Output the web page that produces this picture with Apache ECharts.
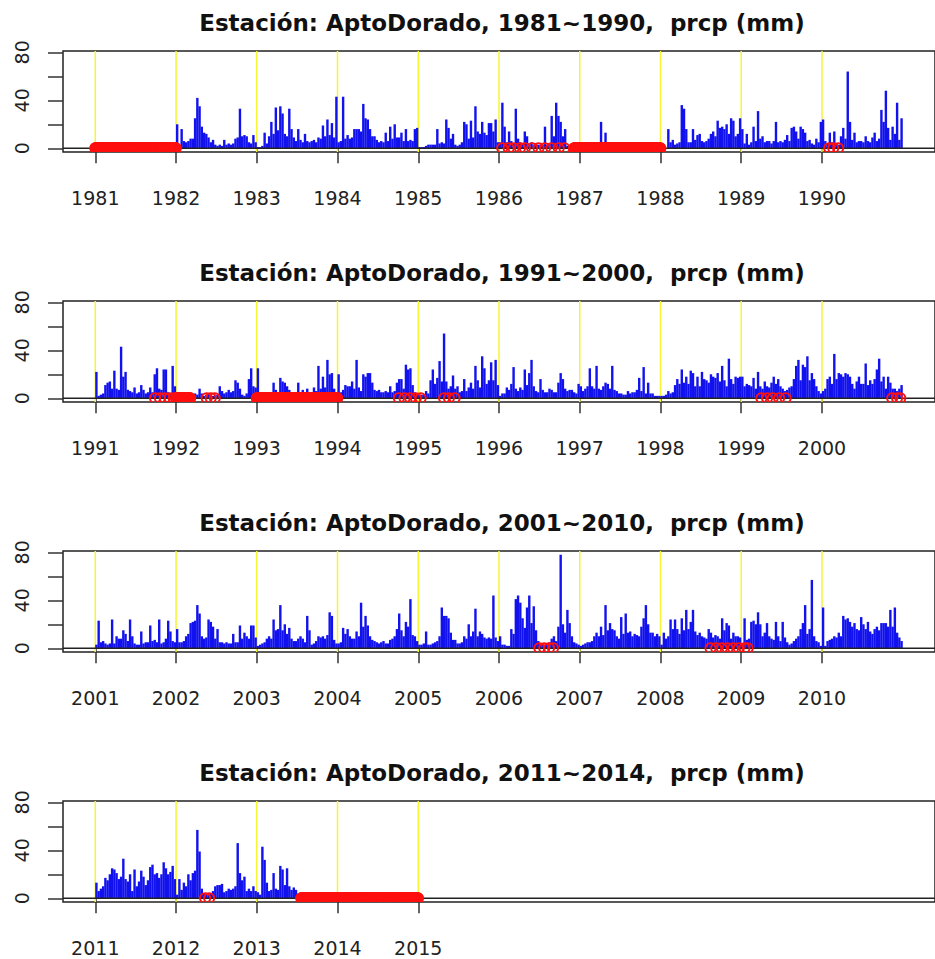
<!DOCTYPE html>
<html><head><meta charset="utf-8">
<script src="https://cdn.jsdelivr.net/npm/echarts@6/dist/echarts.min.js"></script>
<style>html,body{margin:0;padding:0;background:#fff}#c{width:935px;height:959px}</style>
</head><body><div id="c"></div>
<script>
// Daily precipitation summarised per dekad (36 per year); null = missing
const prcp1981 = [];
const prcp1982 = [20,null,16,6,5,6,8,8,25,42,35,18,13,12,9,5,7,3,2,3,2,7,3,4,3,4,8,9,33,10,11,10,5,4,11,5];
const prcp1983 = [1,1,2,13,4,10,22,12,34,15,35,29,12,10,33,16,9,6,16,7,5,12,6,5,6,7,5,9,8,19,10,24,11,21,9,43];
const prcp1984 = [5,6,43,8,11,8,9,16,16,16,14,37,25,24,16,10,10,7,5,6,5,13,6,18,8,20,9,9,13,6,16,6,7,6,16,17];
const prcp1985 = [1,1,1,2,3,3,3,3,16,4,5,4,24,17,8,12,3,2,3,5,22,20,8,23,9,35,14,12,22,13,11,21,21,14,24,5];
const prcp1986 = [5,38,18,5,14,6,4,33,8,5,4,14,10,4,5,3,4,3,3,3,18,3,4,27,10,38,27,22,10,16,2,null,null,null,null,null];
const prcp1987 = [null,null,null,null,null,null,null,null,null,22,null,13,null,null,null,null,null,null,null,null,null,null,null,null,null,null,null,null,null,null,null,null,null,null,null,null];
const prcp1988 = [null,null,null,16,5,7,3,4,5,36,33,16,5,5,16,7,11,12,6,5,6,8,12,14,10,23,17,18,16,20,12,25,23,10,12,25];
const prcp1989 = [16,4,12,3,5,18,6,31,8,10,5,6,6,4,6,22,5,6,5,7,11,6,17,18,14,8,18,16,13,6,7,4,3,8,5,22];
const prcp1990 = [24,6,4,13,5,14,4,3,10,17,8,64,22,7,13,5,6,6,5,10,6,5,9,13,6,8,32,22,48,17,7,18,12,38,7,25];

const prcp1991 = [22,2,3,4,11,13,14,8,23,8,7,43,18,22,7,6,5,9,4,5,11,7,4,5,9,5,20,25,8,7,24,24,5,4,27,10];
const prcp1992 = [3,4,3,5,3,2,4,3,4,3,8,4,2,3,4,3,2,3,3,10,6,4,5,7,5,6,15,13,8,3,2,4,16,25,10,9];
const prcp1993 = [25,3,2,3,4,3,4,13,7,5,17,14,13,10,7,5,4,5,13,5,7,5,8,4,5,9,6,27,8,18,9,32,20,21,8,5];
const prcp1994 = [20,5,7,11,10,10,14,8,32,9,6,20,18,21,21,13,7,6,7,5,5,6,5,10,5,6,13,16,16,8,28,24,25,11,5,3];
const prcp1995 = [3,3,3,6,4,15,24,12,17,31,14,54,14,8,10,19,8,10,5,6,16,6,9,13,8,27,15,9,35,25,12,15,30,15,32,11];
const prcp1996 = [2,4,4,9,7,12,26,8,6,9,7,24,11,21,32,10,6,5,16,7,5,5,8,7,5,5,13,21,16,8,6,7,7,5,4,12];
const prcp1997 = [10,6,8,10,25,10,8,27,8,7,10,13,12,8,27,7,6,4,4,3,3,6,4,5,5,7,17,6,26,4,13,4,4,2,2,2];
const prcp1998 = [2,2,3,6,4,5,11,16,12,24,13,18,12,23,21,10,18,10,22,16,15,13,20,18,17,21,14,27,15,10,33,16,12,18,17,18];
const prcp1999 = [18,10,12,11,10,17,8,22,10,8,14,10,9,13,18,12,16,10,8,6,7,9,10,16,27,32,15,28,26,35,15,21,16,10,6,4];
const prcp2000 = [6,8,16,18,12,37,16,21,20,18,21,20,18,12,8,14,18,12,12,29,11,15,12,16,24,33,14,18,8,18,13,8,8,6,8,11];

const prcp2001 = [3,23,5,6,4,3,4,24,4,10,8,8,15,12,6,24,10,4,3,3,14,4,5,5,19,6,7,5,24,4,5,8,23,14,6,5];
const prcp2002 = [16,5,5,6,10,12,21,22,23,36,29,10,8,9,24,22,18,8,16,5,5,4,5,4,4,12,5,5,19,8,13,10,8,19,19,9];
const prcp2003 = [2,3,4,5,8,10,8,24,15,16,36,15,20,12,17,8,6,6,8,10,8,5,27,15,3,4,6,10,9,10,8,11,30,27,7,4];
const prcp2004 = [4,5,17,12,16,10,8,8,14,10,38,18,27,19,10,7,6,5,4,5,6,4,4,7,8,10,16,29,15,10,22,18,41,11,10,6];
const prcp2005 = [3,3,4,14,3,3,4,5,6,10,34,27,27,25,13,7,7,4,4,5,10,8,20,10,14,33,10,14,12,9,8,9,8,44,9,6];
const prcp2006 = [10,3,3,2,2,16,12,41,44,38,25,17,34,44,21,35,15,6,4,3,3,4,5,8,10,6,18,78,20,13,32,21,10,5,4,3];
const prcp2007 = [2,3,4,5,5,6,10,13,10,18,11,36,15,21,16,15,10,8,26,12,29,13,14,10,12,11,10,18,25,36,20,13,13,10,12,10];
const prcp2008 = [3,13,8,10,24,16,24,16,12,25,15,32,16,22,32,14,11,13,10,9,8,16,13,9,11,10,8,25,15,21,19,8,13,10,10,9];
const prcp2009 = [4,25,7,8,22,23,20,30,20,10,13,21,10,8,7,22,10,6,22,9,5,3,4,6,8,10,16,21,36,12,16,57,10,6,5,2];
const prcp2010 = [34,2,6,7,8,10,9,13,10,27,24,25,22,18,21,16,15,26,20,16,22,14,12,16,18,15,21,21,21,18,32,18,34,13,9,6];

const prcp2011 = [13,6,8,10,17,15,20,25,24,21,16,18,33,16,14,20,6,24,10,14,23,18,11,15,26,28,20,21,17,20,30,25,20,22,27,16];
const prcp2012 = [3,16,7,13,10,20,15,21,23,57,39,8,4,3,3,4,6,10,11,11,12,5,6,8,7,8,10,46,21,15,18,6,8,6,10,6];
const prcp2013 = [5,3,43,32,13,6,7,21,8,7,27,24,11,25,10,7,9,7];
const prcp2014 = [];

// Year tick labels per panel
const ticks1 = [1981,1982,1983,1984,1985,1986,1987,1988,1989,1990];
const ticks2 = [1991,1992,1993,1994,1995,1996,1997,1998,1999,2000];
const ticks3 = [2001,2002,2003,2004,2005,2006,2007,2008,2009,2010];
const ticks4 = [2011,2012,2013,2014,2015];

// Missing data: continuous spans [from, to] (decimal years) and isolated missing days
const missSpans1 = [[1981.0, 1982.0], [1986.93, 1988.0]];
const missDays1 = [1986.04,1986.12,1986.18,1986.26,1986.32,1986.41,1986.49,1986.57,1986.65,1986.74,1986.81,1990.09,1990.14,1990.2];
const missSpans2 = [[1992.0, 1992.18], [1993.0, 1994.0]];
const missDays2 = [1991.74,1991.8,1991.86,1991.92,1991.97,1992.38,1992.43,1992.48,1994.76,1994.83,1994.9,1994.97,1995.03,1995.32,1995.38,1995.45,1999.25,1999.32,1999.39,1999.47,1999.55,2000.87,2000.93,2000.97];
const missSpans3 = [];
const missDays3 = [2006.5,2006.56,2006.62,2006.67,2008.62,2008.69,2008.76,2008.83,2008.9,2008.97,2009.04,2009.08];
const missSpans4 = [[2013.55, 2015.0]];
const missDays4 = [2012.36,2012.41];

const tickValuesY = [0,20,40,60,80];
const labelValuesY = [0,40,80];

const panels = [
  {label:'1981~1990', first:1981, data:[prcp1981,prcp1982,prcp1983,prcp1984,prcp1985,prcp1986,prcp1987,prcp1988,prcp1989,prcp1990], ticks:ticks1, spans:missSpans1, days:missDays1},
  {label:'1991~2000', first:1991, data:[prcp1991,prcp1992,prcp1993,prcp1994,prcp1995,prcp1996,prcp1997,prcp1998,prcp1999,prcp2000], ticks:ticks2, spans:missSpans2, days:missDays2},
  {label:'2001~2010', first:2001, data:[prcp2001,prcp2002,prcp2003,prcp2004,prcp2005,prcp2006,prcp2007,prcp2008,prcp2009,prcp2010], ticks:ticks3, spans:missSpans3, days:missDays3},
  {label:'2011~2014', first:2011, data:[prcp2011,prcp2012,prcp2013,prcp2014], ticks:ticks4, spans:missSpans4, days:missDays4}
];

const yMin = -3.12, yMax = 81.12;
const chart = echarts.init(document.getElementById('c'), null, {renderer:'svg'});
const grids=[], xAxes=[], yAxes=[], series=[], titles=[];
const font = 'DejaVu Sans';

panels.forEach((p, i) => {
  const top = 51 + 250*i;
  const xMin = p.first - 0.4, xMax = p.first + 10.4;
  grids.push({left:63, top:top, width:878, height:101, show:true, borderColor:'#222', borderWidth:1.5});
  titles.push({text:'Estación: AptoDorado, ' + p.label + ',  prcp (mm)', left:497, top:top-45, textAlign:'center',
    textStyle:{fontFamily:font, fontWeight:'bold', fontSize:23, color:'#111'}});
  xAxes.push({type:'value', gridIndex:i, min:xMin, max:xMax,
    axisLine:{show:false}, splitLine:{show:false},
    axisTick:{show:true, customValues:p.ticks, length:15, lineStyle:{color:'#333', width:1.5}},
    axisLabel:{customValues:p.ticks, margin:36, fontSize:19, fontFamily:font, color:'#222', formatter:v=>String(Math.round(v))}});
  yAxes.push({type:'value', gridIndex:i, min:yMin, max:yMax,
    axisLine:{show:false}, splitLine:{show:false},
    axisTick:{show:true, customValues:tickValuesY, length:15, lineStyle:{color:'#333', width:1.5}},
    axisLabel:{customValues:labelValuesY, rotate:90, margin:32, fontSize:19, fontFamily:font, color:'#222'}});

  // yellow year lines
  series.push({type:'custom', xAxisIndex:i, yAxisIndex:i, silent:true, z:1,
    data:p.ticks.map(y=>[y,0]),
    renderItem:(params, api)=>{
      const a = api.coord([api.value(0), yMax]), b = api.coord([api.value(0), yMin]);
      return {type:'line', shape:{x1:a[0], y1:a[1], x2:b[0], y2:b[1]}, style:{stroke:'#f6f630', lineWidth:1.5}};
    }});

  // precipitation bars
  const bars = [];
  p.data.forEach((arr, k) => {
    arr.forEach((v, d) => { if (v !== null) bars.push([p.first + k + (d + 0.5)/36, v]); });
  });
  series.push({type:'bar', xAxisIndex:i, yAxisIndex:i, data:bars, barWidth:2.4, silent:true, z:2,
    itemStyle:{color:'#1212ee'}});

  // zero line
  series.push({type:'custom', xAxisIndex:i, yAxisIndex:i, silent:true, z:3,
    data:[[xMin,0]],
    renderItem:(params, api)=>{
      const a = api.coord([xMin, 0]), b = api.coord([xMax, 0]);
      return {type:'line', shape:{x1:a[0], y1:a[1], x2:b[0], y2:b[1]}, style:{stroke:'#222', lineWidth:1.5}};
    }});

  // missing-data circles (clipped to the plot box)
  const miss = [];
  p.spans.forEach(s => { for (let t = s[0]; t <= s[1] + 1e-9; t += 2/365) miss.push([t, 0]); });
  p.days.forEach(t => miss.push([t, 0]));
  series.push({type:'custom', xAxisIndex:i, yAxisIndex:i, data:miss, silent:true, z:4, clip:true,
    renderItem:(params, api)=>{
      const c = api.coord([api.value(0), api.value(1)]);
      return {type:'circle', shape:{cx:c[0], cy:c[1], r:5.1}, style:{fill:'none', stroke:'#ff1010', lineWidth:1.8}};
    }});
});

chart.setOption({animation:false, backgroundColor:'#fff', title:titles, grid:grids, xAxis:xAxes, yAxis:yAxes, series:series});
</script></body></html>
